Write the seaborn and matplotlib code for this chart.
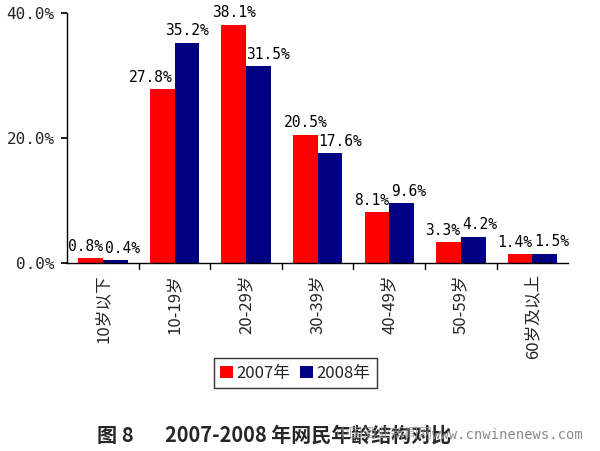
import matplotlib
matplotlib.use("Agg")
import matplotlib.pyplot as plt
import seaborn as sns
import pandas as pd
from matplotlib.ticker import FuncFormatter, MultipleLocator

categories = ["10岁以下", "10-19岁", "20-29岁", "30-39岁", "40-49岁", "50-59岁", "60岁及以上"]
series_names = ["2007年", "2008年"]
values_2007 = [0.8, 27.8, 38.1, 20.5, 8.1, 3.3, 1.4]
values_2008 = [0.4, 35.2, 31.5, 17.6, 9.6, 4.2, 1.5]
colors = ["#FF0000", "#000080"]
caption_fig = "图 8"
caption_title = "2007-2008 年网民年龄结构对比"
watermark_url = "www.cnwinenews.com"
watermark_cn = "中国酒业新闻网"

sns.set_theme(style="white")
plt.rcParams['font.family'] = ['Noto Sans CJK SC', 'DejaVu Sans']
mono = ['DejaVu Sans Mono']

df = pd.DataFrame({
    "cat": categories * 2,
    "year": [series_names[0]] * len(categories) + [series_names[1]] * len(categories),
    "val": values_2007 + values_2008,
})

fig = plt.figure(figsize=(6.0, 4.51), dpi=100)
ax = fig.add_axes([0.112, 0.417, 0.835, 0.555])
sns.barplot(data=df, x="cat", y="val", hue="year", palette=colors, ax=ax,
            width=0.69, saturation=1, edgecolor="none", linewidth=0, legend=True)

ax.set_ylim(0, 40)
ax.set_xlim(-0.5, len(categories) - 0.5)
ax.yaxis.set_major_locator(MultipleLocator(20))
ax.yaxis.set_major_formatter(FuncFormatter(lambda v, p: f"{v:.1f}%"))
ax.set_xlabel("")
ax.set_ylabel("")
for s in ["top", "right"]:
    ax.spines[s].set_visible(False)
for s in ["left", "bottom"]:
    ax.spines[s].set_color("black")
    ax.spines[s].set_linewidth(1.0)

ax.set_xticks(range(len(categories)))
ax.set_xticklabels(categories, rotation=90, fontsize=12, va="top")
ax.tick_params(axis="x", length=0, pad=8)
ax.tick_params(axis="y", length=4, color="black", direction="out", pad=5, left=True)
for lab in ax.get_yticklabels():
    lab.set_family(mono)
    lab.set_fontsize(11.5)
# group boundary ticks on x axis
for b in [i + 0.5 for i in range(len(categories) - 1)]:
    ax.plot([b, b], [0, -0.9], color="black", lw=1, clip_on=False)

# value labels: lower label of a pair shifts outward, close pairs both shift
c07, c08 = ax.containers[0], ax.containers[1]
for b07, b08 in zip(c07, c08):
    h07, h08 = b07.get_height(), b08.get_height()
    if abs(h07 - h08) < 2.0:
        dx07, dx08 = -4, 5
    elif h07 < h08:
        dx07, dx08 = -8, 0
    else:
        dx07, dx08 = 0, 7
    for bar, h, dx in [(b07, h07, dx07), (b08, h08, dx08)]:
        ax.annotate(f"{h:.1f}%", (bar.get_x() + bar.get_width() / 2, h),
                    xytext=(dx, 3), textcoords="offset points",
                    ha="center", va="bottom", fontsize=10.5, family=mono, color="black")

leg = ax.legend(loc="center", bbox_to_anchor=(0.455, -0.44), ncol=2, frameon=True,
                fontsize=12, handlelength=0.75, handleheight=0.75, handletextpad=0.2,
                columnspacing=0.6, borderpad=0.4, fancybox=False)
leg.get_frame().set_edgecolor("black")
leg.get_frame().set_linewidth(1.0)

fig.text(0.162, 0.035, caption_fig, fontsize=14.5, fontweight="bold", ha="left", va="center")
fig.text(0.275, 0.035, caption_title, fontsize=14.4, fontweight="bold", ha="left", va="center")
fig.text(0.56, 0.038, watermark_cn, fontsize=10, color="#9a9a9a", alpha=0.8,
         ha="left", va="center")
fig.text(0.972, 0.035, watermark_url, fontsize=10, family=mono, color="#8a8a8a",
         ha="right", va="center")

fig.savefig("out.png", dpi=100)
